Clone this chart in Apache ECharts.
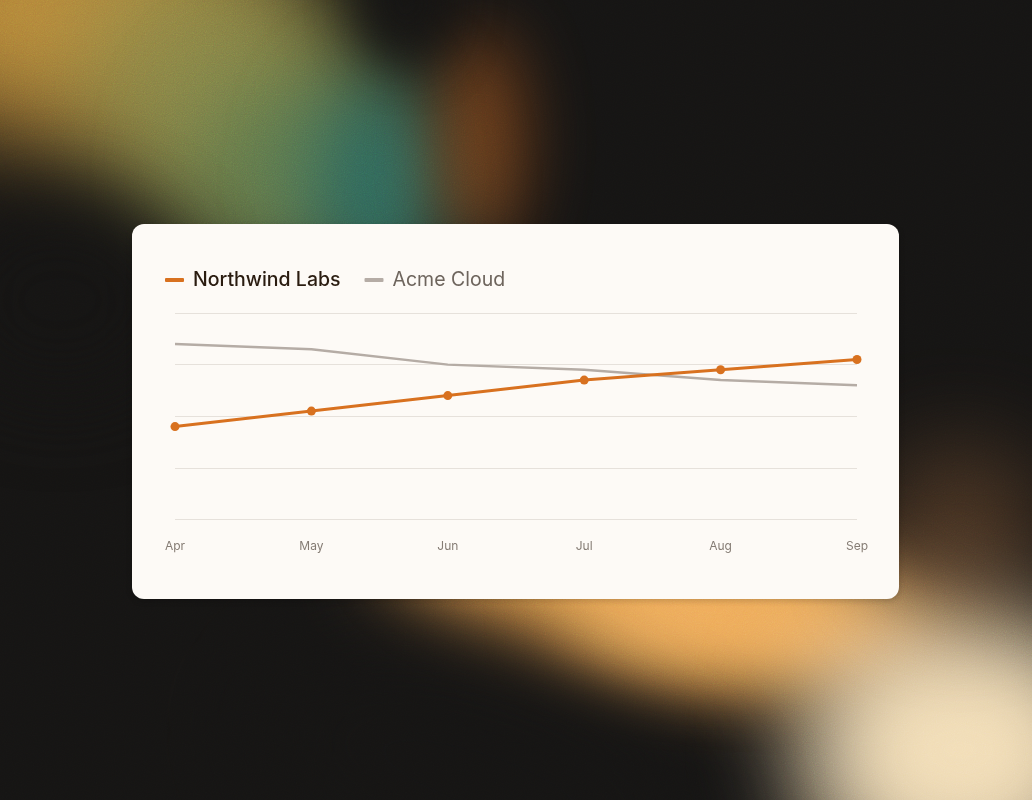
<!DOCTYPE html>
<html>
<head>
<meta charset="utf-8">
<script src="https://cdn.jsdelivr.net/npm/echarts@6/dist/echarts.min.js"></script>
<style>
  html, body { margin:0; padding:0; width:1032px; height:800px; overflow:hidden; background:#141312; }
  #bg { position:absolute; left:0; top:0; width:1032px; height:800px; overflow:hidden; background:#151413; }
  .blob { position:absolute; border-radius:50%; }
  #noise { position:absolute; left:0; top:0; width:1032px; height:800px; opacity:0.22; mix-blend-mode:overlay;
    background-image:url("data:image/svg+xml;utf8,<svg xmlns='http://www.w3.org/2000/svg' width='200' height='200'><filter id='n'><feTurbulence type='fractalNoise' baseFrequency='0.9' numOctaves='2' stitchTiles='stitch'/></filter><rect width='200' height='200' filter='url(%23n)'/></svg>"); }
  #card { position:absolute; left:132px; top:224px; width:767px; height:375px; background:#fdfaf6; border-radius:12px;
    box-shadow:0 2px 6px rgba(0,0,0,0.18); }
  #chart { position:absolute; left:0; top:0; width:767px; height:375px; }
</style>
</head>
<body>
<div id="bg">
  <div class="blob" style="left:-120px;top:-120px;width:380px;height:260px;background:#c9953e;filter:blur(55px);opacity:0.9"></div>
  <div class="blob" style="left:80px;top:-40px;width:280px;height:270px;background:#8c8848;filter:blur(50px);opacity:0.95;transform:rotate(30deg)"></div>
  <div class="blob" style="left:190px;top:70px;width:200px;height:200px;background:#617a4c;filter:blur(45px)"></div>
  <div class="blob" style="left:310px;top:80px;width:140px;height:210px;background:#2f6a5e;filter:blur(40px)"></div>
  <div class="blob" style="left:440px;top:30px;width:80px;height:220px;background:#8a4a1c;filter:blur(35px);opacity:0.85"></div>
  <div class="blob" style="left:360px;top:-60px;width:90px;height:120px;background:#151413;filter:blur(25px)"></div>
  <div class="blob" style="left:-60px;top:200px;width:240px;height:200px;background:#151413;filter:blur(40px)"></div>
  <div class="blob" style="left:380px;top:520px;width:580px;height:150px;background:#eaa24f;filter:blur(40px);transform:rotate(10deg)"></div>
  <div class="blob" style="left:560px;top:560px;width:300px;height:110px;background:#f0ad5c;filter:blur(35px)"></div>
  <div class="blob" style="left:800px;top:610px;width:320px;height:280px;background:#f2ddb6;filter:blur(50px)"></div>
  <div class="blob" style="left:880px;top:450px;width:160px;height:160px;background:#7a5232;filter:blur(50px);opacity:0.6"></div>
  <div class="blob" style="left:240px;top:660px;width:480px;height:240px;background:#151413;filter:blur(50px);transform:rotate(18deg)"></div>
  <div id="noise"></div>
</div>
<div id="card"><div id="chart"></div></div>
<script>
const categories = ['Apr', 'May', 'Jun', 'Jul', 'Aug', 'Sep'];
const northwind = [36, 42, 48, 54, 58, 62];
const acme = [68, 66, 60, 58, 54, 52];
const yTicks = [0, 20, 40, 60, 80];

const chart = echarts.init(document.getElementById('chart'), null, { renderer: 'canvas' });
const FONT = 'Inter, "Noto Sans", sans-serif';
chart.setOption({
  backgroundColor: 'transparent',
  animation: false,
  legend: {
    left: 28, top: 41,
    icon: 'roundRect',
    itemWidth: 19, itemHeight: 4,
    itemGap: 24,
    textStyle: { fontFamily: FONT, fontSize: 19.5, fontWeight: 500, padding: [0, 0, 0, 4] },
    data: [
      { name: 'Northwind Labs', textStyle: { color: '#2a1c10' } },
      { name: 'Acme Cloud', textStyle: { color: '#6e655d', fontWeight: 400 } }
    ]
  },
  grid: { left: 43, right: 42, top: 89, bottom: 79.5, containLabel: false },
  xAxis: {
    type: 'category',
    data: categories,
    boundaryGap: false,
    axisLine: { show: false },
    axisTick: { show: false },
    axisLabel: { color: '#857c74', fontFamily: FONT, fontSize: 12, margin: 21 }
  },
  yAxis: {
    type: 'value',
    min: yTicks[0], max: yTicks[yTicks.length - 1], interval: yTicks[1] - yTicks[0],
    axisLabel: { show: false },
    axisLine: { show: false },
    axisTick: { show: false },
    splitLine: { lineStyle: { color: '#e6e1db', width: 1 } }
  },
  series: [
    {
      name: 'Northwind Labs', type: 'line', data: northwind,
      color: '#d8711f',
      lineStyle: { width: 3, color: '#d8711f' },
      symbol: 'circle', symbolSize: 9,
      itemStyle: { color: '#d8711f' },
      z: 3
    },
    {
      name: 'Acme Cloud', type: 'line', data: acme,
      color: '#b5aca5',
      lineStyle: { width: 2.5, color: '#b5aca5' },
      symbol: 'none',
      z: 2
    }
  ]
});
</script>
</body>
</html>
